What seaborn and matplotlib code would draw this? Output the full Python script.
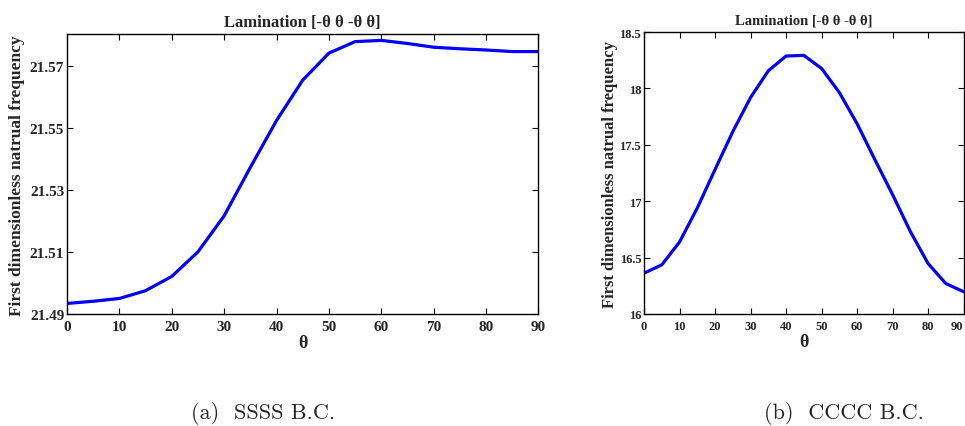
import matplotlib
matplotlib.use("Agg")
import matplotlib.pyplot as plt
import numpy as np
import pandas as pd
import seaborn as sns

theta = [0, 5, 10, 15, 20, 25, 30, 35, 40, 45, 50, 55, 60, 65, 70, 75, 80, 85, 90]
freq_ssss = [21.4934, 21.4941, 21.4950, 21.4975, 21.5021, 21.5100, 21.5216, 21.5372,
             21.5523, 21.5653, 21.5740, 21.5777, 21.5781, 21.5771, 21.5759, 21.5754,
             21.5750, 21.5745, 21.5745]
freq_cccc = [16.362, 16.436, 16.638, 16.940, 17.281, 17.617, 17.919, 18.156, 18.287,
             18.293, 18.177, 17.964, 17.688, 17.370, 17.059, 16.732, 16.448, 16.270,
             16.198]

ssss_yticks = [21.49, 21.51, 21.53, 21.55, 21.57]
cccc_yticks = [16, 16.5, 17, 17.5, 18, 18.5]
cccc_yticklabels = ["16", "16.5", "17", "17.5", "18", "18.5"]
xticks = [0, 10, 20, 30, 40, 50, 60, 70, 80, 90]

title = "Lamination [-\u03b8 \u03b8 -\u03b8 \u03b8]"
ylabel = "First dimensionless natrual frequency"
captions = ["(a)  SSSS B.C.", "(b)  CCCC B.C."]

sns.set_style("ticks")
plt.rcParams["font.family"] = ["Liberation Serif", "DejaVu Serif"]
plt.rcParams["font.weight"] = "bold"

df = pd.DataFrame({"theta": theta, "ssss": freq_ssss, "cccc": freq_cccc})

fig = plt.figure(figsize=(9.65, 4.27), dpi=100)
ax1 = fig.add_axes([0.0694, 0.2623, 0.4886, 0.6546])
ax2 = fig.add_axes([0.6674, 0.2623, 0.3311, 0.6604])

sns.lineplot(data=df, x="theta", y="ssss", ax=ax1, color="#0000ff", linewidth=2.3)
sns.lineplot(data=df, x="theta", y="cccc", ax=ax2, color="#0000ff", linewidth=2.3)

ax1.set_xlim(0, 90)
ax1.set_ylim(21.49, 21.58)
ax1.set_yticks(ssss_yticks)
ax1.set_yticklabels([f"{v:.2f}" for v in ssss_yticks])
ax2.set_xlim(0, 90)
ax2.set_ylim(16, 18.5)
ax2.set_yticks(cccc_yticks)
ax2.set_yticklabels(cccc_yticklabels)

for ax, fs, tfs, ylfs in [(ax1, 11, 12, 12.5), (ax2, 9, 10.5, 12)]:
    ax.set_xticks(xticks)
    ax.tick_params(direction="in", length=4, width=0.8, top=True, right=True,
                   labelsize=fs, color="black")
    ax.tick_params(axis="x", pad=4)
    ax.tick_params(axis="y", pad=2)
    for lbl in ax.get_xticklabels() + ax.get_yticklabels():
        lbl.set_fontweight("bold")
    for s in ax.spines.values():
        s.set_visible(True)
        s.set_linewidth(1.0)
        s.set_color("black")
    ax.set_xlabel("\u03b8", fontsize=13, fontweight="bold", labelpad=1)
    ax.set_ylabel(ylabel, fontsize=ylfs, fontweight="bold")
    ax.set_title(title, fontsize=tfs, fontweight="bold", pad=6)

# the right panel sits at the figure edge, keep its last tick label inside
ax2.get_xticklabels()[-1].set_horizontalalignment("right")

ax1.yaxis.set_label_coords(-0.09, 0.5)
ax2.yaxis.set_label_coords(-0.082, 0.5)

fig.text(263 / 965, 1 - 414 / 427, captions[0], ha="center", va="center",
         fontsize=16, fontweight="normal", family="cmr10")
fig.text(844 / 965, 1 - 414 / 427, captions[1], ha="center", va="center",
         fontsize=16, fontweight="normal", family="cmr10")

fig.savefig("out.png", dpi=100)
